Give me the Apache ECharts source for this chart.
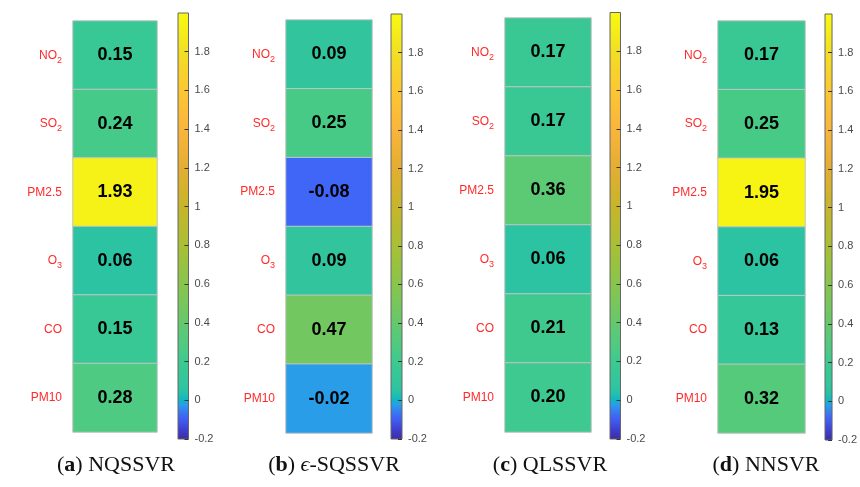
<!DOCTYPE html>
<html>
<head>
<meta charset="utf-8">
<script src="https://cdn.jsdelivr.net/npm/echarts@6/dist/echarts.min.js"></script>
<style>
  html, body { margin: 0; padding: 0; background: #fff; }
  #chart { width: 860px; height: 487px; }
</style>
</head>
<body>
<div id="chart"></div>
<script>
// Pollutants (rows, top to bottom)
const categories = ['NO2', 'SO2', 'PM2.5', 'O3', 'CO', 'PM10'];

// Models and their panel tags
const modelNames = ['NQSSVR', 'ϵ-SQSSVR', 'QLSSVR', 'NNSVR'];
const panelTags = ['a', 'b', 'c', 'd'];

// Values per model, in the order of categories
const valuesNQSSVR = [0.15, 0.24, 1.93, 0.06, 0.15, 0.28];
const valuesSQSSVR = [0.09, 0.25, -0.08, 0.09, 0.47, -0.02];
const valuesQLSSVR = [0.17, 0.17, 0.36, 0.06, 0.21, 0.20];
const valuesNNSVR  = [0.17, 0.25, 1.95, 0.06, 0.13, 0.32];
const modelValues = [valuesNQSSVR, valuesSQSSVR, valuesQLSSVR, valuesNNSVR];

// Colour scale range and tick step
const colorMin = -0.2;
const colorMax = 2.0;
const colorStep = 0.2;

// Colour map: [value, colour]
const colormapStops = [
  [-0.20, '#3b2ba2'], [-0.15, '#3e3fd0'], [-0.10, '#3f5cf2'], [-0.08, '#3f66f6'],
  [-0.02, '#2a9de8'], [0.00, '#0eb4ca'], [0.04, '#26c1a8'], [0.08, '#31c59e'],
  [0.15, '#37c896'], [0.20, '#3dc990'], [0.25, '#48ca87'], [0.30, '#52ca7e'],
  [0.36, '#5cc975'], [0.47, '#72c760'], [0.60, '#88c54c'], [0.80, '#a9bf35'],
  [1.00, '#c7b52b'], [1.20, '#e3ae31'], [1.40, '#fab53b'], [1.60, '#fcc731'],
  [1.80, '#f2df24'], [2.00, '#f8fa0e']
];

// Panel placement (pixels): heatmap box, colour bar box, caption centre
const layout = [
  { heat: [73, 21, 84, 411],  bar: [178, 13, 10.5, 426], cap: 116 },
  { heat: [286, 20, 86, 413], bar: [391, 14, 11, 425],   cap: 334 },
  { heat: [505, 18, 86, 414], bar: [610, 12.5, 10.5, 426.5], cap: 550 },
  { heat: [718, 21, 87, 412], bar: [825, 14, 10.5, 426], cap: 766 }
];

const sansFont = '"Liberation Sans", Arial, Helvetica, sans-serif';
const serifFont = '"Liberation Serif", "Times New Roman", serif';

function hexToRgb(h) {
  return [parseInt(h.slice(1, 3), 16), parseInt(h.slice(3, 5), 16), parseInt(h.slice(5, 7), 16)];
}
function colorAt(v) {
  if (v <= colormapStops[0][0]) return colormapStops[0][1];
  for (let i = 1; i < colormapStops.length; i++) {
    const [v1, c1] = colormapStops[i];
    const [v0, c0] = colormapStops[i - 1];
    if (v <= v1) {
      const t = (v - v0) / (v1 - v0);
      const a = hexToRgb(c0), b = hexToRgb(c1);
      const r = a.map((x, k) => Math.round(x + (b[k] - x) * t));
      return 'rgb(' + r.join(',') + ')';
    }
  }
  return colormapStops[colormapStops.length - 1][1];
}
// Evenly sampled palette for the visualMap
const paletteSteps = 221;
const palette = [];
for (let i = 0; i < paletteSteps; i++) {
  palette.push(colorAt(colorMin + (colorMax - colorMin) * i / (paletteSteps - 1)));
}
// Gradient for the colour bars (bottom to top)
const barGradient = {
  type: 'linear', x: 0, y: 1, x2: 0, y2: 0,
  colorStops: colormapStops.map(([v, c]) => ({ offset: (v - colorMin) / (colorMax - colorMin), color: c }))
};

function pollutantLabel(name) {
  const m = name.match(/^([A-Z]+)(\d)$/);
  return m ? m[1] + '{s|' + m[2] + '}' : name;
}

const grids = [], xAxes = [], yAxes = [], series = [], graphics = [];

modelValues.forEach((vals, i) => {
  const L = layout[i];
  // heatmap grid
  grids.push({ left: L.heat[0], top: L.heat[1], width: L.heat[2], height: L.heat[3] });
  xAxes.push({ type: 'category', gridIndex: 2 * i, data: [''], show: false });
  yAxes.push({
    type: 'category', gridIndex: 2 * i, data: categories, inverse: true,
    axisLine: { show: false }, axisTick: { show: false }, splitLine: { show: false },
    axisLabel: {
      margin: 11, color: '#ff2a2a', fontSize: 12, fontFamily: sansFont,
      formatter: pollutantLabel,
      rich: { s: { fontSize: 9, color: '#ff2a2a', fontFamily: sansFont, padding: [10, 0, 0, 0] } }
    }
  });
  // colour bar grid
  grids.push({ left: L.bar[0], top: L.bar[1], width: L.bar[2], height: L.bar[3] });
  xAxes.push({ type: 'value', gridIndex: 2 * i + 1, min: 0, max: 1, show: false });
  yAxes.push({
    type: 'value', gridIndex: 2 * i + 1, position: 'right', z: 10,
    min: colorMin, max: colorMax, interval: colorStep,
    axisLine: { show: false, onZero: false }, splitLine: { show: false },
    axisTick: { show: true, inside: false, length: -4, lineStyle: { color: '#333', width: 1 } },
    axisLabel: {
      margin: 6, color: '#4a4a4a', fontSize: 11, fontFamily: sansFont, showMaxLabel: false,
      formatter: v => String(+v.toFixed(1))
    }
  });

  series.push({
    type: 'heatmap', xAxisIndex: 2 * i, yAxisIndex: 2 * i,
    data: vals.map((v, j) => [0, j, v]),
    itemStyle: { borderColor: '#c4c4c4', borderWidth: 1 },
    label: {
      show: true, color: '#000', fontSize: 18, fontWeight: 'bold', fontFamily: sansFont,
      formatter: p => p.value[2].toFixed(2)
    },
    emphasis: { disabled: true }
  });
  series.push({
    type: 'custom', xAxisIndex: 2 * i + 1, yAxisIndex: 2 * i + 1, z: 1,
    data: [[colorMin, colorMax]],
    renderItem: (params, api) => {
      const p0 = api.coord([0, api.value(0)]);
      const p1 = api.coord([1, api.value(1)]);
      return {
        type: 'rect',
        shape: { x: p0[0], y: p1[1], width: p1[0] - p0[0], height: p0[1] - p1[1] },
        style: { fill: barGradient, stroke: '#666', lineWidth: 1 }
      };
    },
    silent: true
  });

  // caption
  const tag = panelTags[i];
  const name = modelNames[i];
  const nameText = name.startsWith('ϵ') ? '{e|ϵ}' + name.slice(1) : name;
  graphics.push({
    type: 'text', x: L.cap, y: 465,
    style: {
      text: '({b|' + tag + '}) ' + nameText,
      align: 'center', verticalAlign: 'middle',
      fontFamily: serifFont, fontSize: 22, fill: '#111',
      rich: {
        b: { fontFamily: serifFont, fontSize: 22, fontWeight: 'bold', fill: '#111' },
        e: { fontFamily: serifFont, fontSize: 22, fontStyle: 'italic', fill: '#111' }
      }
    }
  });
});

const chart = echarts.init(document.getElementById('chart'), null, { renderer: 'canvas' });
chart.setOption({
  backgroundColor: '#fff',
  animation: false,
  grid: grids,
  xAxis: xAxes,
  yAxis: yAxes,
  visualMap: {
    show: false, type: 'continuous', min: colorMin, max: colorMax, dimension: 2,
    seriesIndex: [0, 2, 4, 6], inRange: { color: palette }
  },
  series: series,
  graphic: graphics
});
</script>
</body>
</html>
